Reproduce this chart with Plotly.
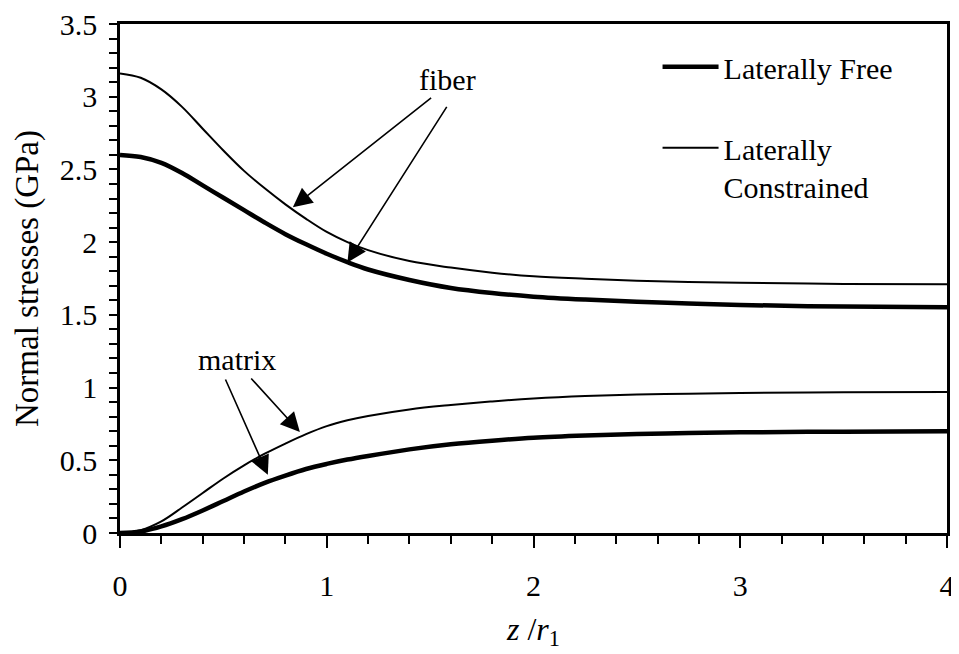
import plotly.graph_objects as go

z = [0, 0.1, 0.2, 0.3, 0.4, 0.5, 0.6, 0.7, 0.8, 0.9, 1.0, 1.1, 1.2, 1.4, 1.6, 1.8, 2.0, 2.25, 2.5, 2.75, 3.0, 3.5, 4.0]
fiber_constrained = [3.16, 3.13, 3.05, 2.93, 2.78, 2.63, 2.49, 2.37, 2.26, 2.16, 2.07, 2.00, 1.945, 1.87, 1.825, 1.79, 1.765, 1.748, 1.735, 1.726, 1.72, 1.713, 1.71]
fiber_free = [2.60, 2.585, 2.545, 2.475, 2.39, 2.305, 2.22, 2.135, 2.055, 1.985, 1.92, 1.862, 1.812, 1.74, 1.685, 1.65, 1.625, 1.605, 1.59, 1.578, 1.568, 1.557, 1.553]
matrix_constrained = [0, 0.02, 0.08, 0.175, 0.275, 0.375, 0.465, 0.545, 0.615, 0.68, 0.735, 0.775, 0.805, 0.85, 0.88, 0.905, 0.925, 0.942, 0.952, 0.958, 0.963, 0.968, 0.97]
matrix_free = [0, 0.01, 0.045, 0.095, 0.155, 0.22, 0.285, 0.345, 0.395, 0.44, 0.475, 0.505, 0.53, 0.575, 0.61, 0.635, 0.655, 0.67, 0.68, 0.687, 0.692, 0.697, 0.70]

FONT = "Liberation Serif, Times New Roman, Times, serif"
FS = 30

fig = go.Figure()
fig.add_trace(go.Scatter(x=z, y=fiber_free, mode="lines", line=dict(color="black", width=4.5, shape="spline", smoothing=1),
                         name="Laterally Free", legendgroup="free", showlegend=True))
fig.add_trace(go.Scatter(x=z, y=matrix_free, mode="lines", line=dict(color="black", width=4.5, shape="spline", smoothing=1),
                         name="Laterally Free", legendgroup="free", showlegend=False))
fig.add_trace(go.Scatter(x=z, y=fiber_constrained, mode="lines", line=dict(color="black", width=2, shape="spline", smoothing=1),
                         name="Laterally<br>Constrained", legendgroup="con", showlegend=True))
fig.add_trace(go.Scatter(x=z, y=matrix_constrained, mode="lines", line=dict(color="black", width=2, shape="spline", smoothing=1),
                         name="Laterally<br>Constrained", legendgroup="con", showlegend=False))

# annotation arrows: (tip x, tip y, tail x, tail y)
fiber_arrows = [(0.836, 2.24, 1.512, 3.0), (1.10, 1.86, 1.585, 2.94)]
matrix_arrows = [(0.715, 0.40, 0.507, 1.066), (0.87, 0.695, 0.628, 1.073)]
for (x, y, ax, ay) in fiber_arrows + matrix_arrows:
    fig.add_annotation(x=x, y=y, ax=ax, ay=ay, xref="x", yref="y", axref="x", ayref="y",
                       text="", showarrow=True, arrowhead=2, arrowsize=2.4, arrowwidth=1.6, arrowcolor="black")
fig.add_annotation(x=1.585, y=3.115, text="fiber", showarrow=False, xref="x", yref="y",
                   font=dict(family=FONT, size=FS, color="black"))
fig.add_annotation(x=0.565, y=1.19, text="matrix", showarrow=False, xref="x", yref="y",
                   font=dict(family=FONT, size=FS, color="black"))

fig.update_layout(
    width=951, height=646,
    paper_bgcolor="white", plot_bgcolor="white",
    margin=dict(l=112, r=12, t=16, b=121),
    font=dict(family=FONT, size=FS, color="black"),
    showlegend=True,
    legend=dict(x=0.65, y=0.967, xanchor="left", yanchor="top", bgcolor="rgba(0,0,0,0)",
                tracegroupgap=39, valign="top", itemwidth=56, font=dict(family=FONT, size=FS)),
    xaxis=dict(range=[0, 4], tickvals=[0, 1, 2, 3, 4], ticktext=["0", "1", "2", "3", "4"],
               showgrid=False, zeroline=False, showline=True, linecolor="black", linewidth=2.5, mirror=True,
               ticks="outside", ticklen=12, tickwidth=2, tickcolor="black", ticklabelstandoff=12,
               tickfont=dict(family=FONT, size=FS), automargin=False, ticklabeloverflow="allow",
               minor=dict(dtick=0.2, ticks="outside", ticklen=8, tickwidth=2, tickcolor="black", showgrid=False),
               title=dict(text="<i>z</i> /<i>r</i><sub>1</sub>", font=dict(family=FONT, size=32), standoff=17)),
    yaxis=dict(range=[0, 3.5], tickvals=[0, 0.5, 1, 1.5, 2, 2.5, 3, 3.5],
               ticktext=["0", "0.5", "1", "1.5", "2", "2.5", "3", "3.5"],
               showgrid=False, zeroline=False, showline=True, linecolor="black", linewidth=2.5, mirror=True,
               ticks="outside", ticklen=8, tickwidth=2, tickcolor="black", ticklabelstandoff=6,
               tickfont=dict(family=FONT, size=FS), automargin=False, ticklabeloverflow="allow",
               minor=dict(dtick=0.1, ticks="outside", ticklen=8, tickwidth=2, tickcolor="black", showgrid=False),
               title=dict(text="Normal stresses (GPa)", font=dict(family=FONT, size=33), standoff=12)),
)

fig.write_html("out.html")
